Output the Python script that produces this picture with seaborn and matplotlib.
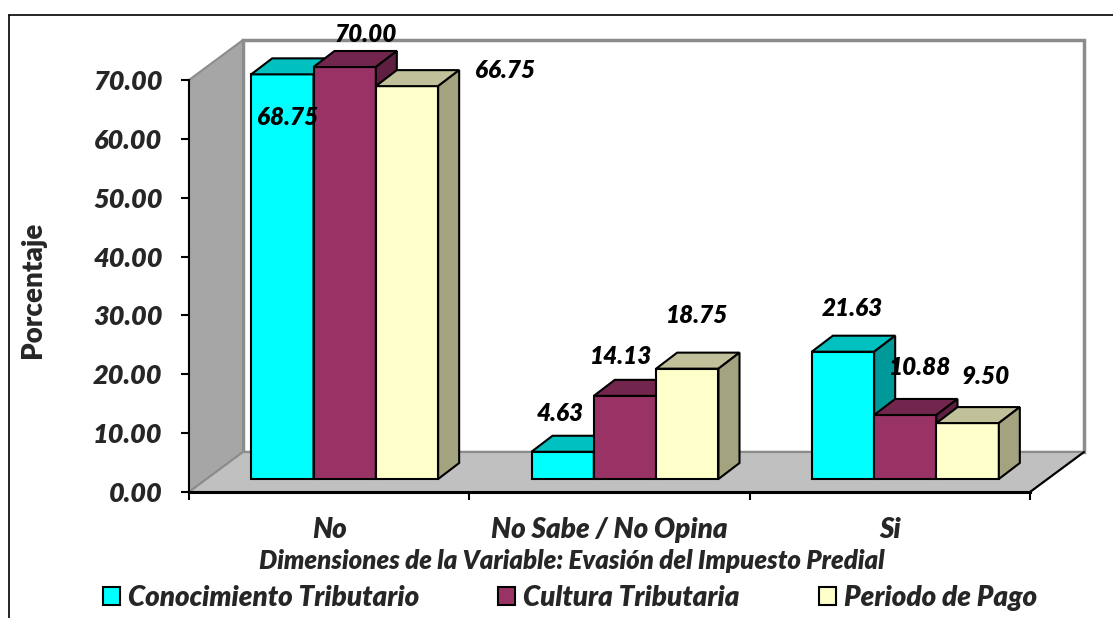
import seaborn as sns
import matplotlib.pyplot as plt
import pandas as pd
from matplotlib.patches import Polygon, Patch
from matplotlib.lines import Line2D

# datos
categorias = ['No', 'No Sabe / No Opina', 'Si']
series = ['Conocimiento Tributario', 'Cultura Tributaria', 'Periodo de Pago']
conocimiento = [68.75, 4.63, 21.63]
cultura = [70.00, 14.13, 10.88]
periodo = [66.75, 18.75, 9.50]

colores = ['#00FFFF', '#993366', '#FFFFCC']
colores_top = ['#00C0C0', '#73264D', '#C0C09A']
colores_lado = ['#009999', '#5E1F40', '#A3A380']

# posicion de las etiquetas (pixeles) respecto a la esquina superior de cada barra
offs_etiquetas = [
    [(5, -43), (-2, 38), (9, 43)],
    [(21, 32), (-4, 39), (15, 47)],
    [(98, 16), (10, 53), (18, 47)],
]

df = pd.DataFrame({
    'cat': categorias * 3,
    'serie': [series[0]] * 3 + [series[1]] * 3 + [series[2]] * 3,
    'valor': conocimiento + cultura + periodo,
})

sns.set_theme(style='white')
plt.rcParams['font.family'] = ['Lato', 'DejaVu Sans']
PESO = 'heavy'

W, H = 1113, 618
fig = plt.figure(figsize=(W / 100, H / 100), dpi=100)
ax = fig.add_axes([189 / W, 126 / H, 841 / W, 412 / H])

ax = sns.barplot(data=df, x='cat', y='valor', hue='serie', palette=colores,
                 width=0.667, edgecolor='black', linewidth=1.5, legend=False,
                 saturation=1, ax=ax)
ax.set_xlim(-0.5, 2.5)
ax.set_ylim(0, 70)

# profundidad de las paredes y de las barras (en unidades de datos)
pxx = 841 / 3.0
pxy = 412 / 70.0
dxw, dyw = 54 / pxx, 40 / pxy
dxb, dyb = 21 / pxx, 16 / pxy
sx, sy = 15.5 / pxx, 13 / pxy

# paredes
x0, x1 = -0.5, 2.5
lado = Polygon([(x0, 0), (x0, 70), (x0 + dxw, 70 + dyw), (x0 + dxw, dyw)],
               closed=True, facecolor='#A6A6A6', edgecolor='#8C8C8C', lw=1.5,
               clip_on=False, zorder=0.5)
piso = Polygon([(x0, 0), (x1, 0), (x1 + dxw, dyw), (x0 + dxw, dyw)],
               closed=True, facecolor='#C0C0C0', edgecolor='#8C8C8C', lw=1.5,
               clip_on=False, zorder=0.6)
fondo = Polygon([(x0 + dxw, dyw), (x1 + dxw, dyw), (x1 + dxw, 70 + dyw), (x0 + dxw, 70 + dyw)],
                closed=True, facecolor='white', edgecolor='#8C8C8C', lw=2.5,
                clip_on=False, zorder=0.4)
for p in (fondo, lado, piso):
    ax.add_patch(p)
ax.plot([x1, x1 + dxw], [0, dyw], color='black', lw=1.5, clip_on=False, zorder=0.7)

# barras 3D
barras = sorted(ax.patches[:9], key=lambda b: b.get_x())
serie_de = {}
for i, s in enumerate(series):
    for j in range(3):
        serie_de[j * 3 + i] = (i, j)

for k, b in enumerate(barras):
    i, j = serie_de[k]
    x, w, h = b.get_x() + sx, b.get_width(), b.get_height()
    z = 3 + k * 0.1
    b.set_x(x)
    b.set_y(sy)
    b.set_clip_on(False)
    b.set_zorder(z)
    top = Polygon([(x, sy + h), (x + w, sy + h), (x + w + dxb, sy + h + dyb), (x + dxb, sy + h + dyb)],
                  closed=True, facecolor=colores_top[i], edgecolor='black', lw=1.5,
                  clip_on=False, zorder=z)
    side = Polygon([(x + w, sy), (x + w + dxb, sy + dyb), (x + w + dxb, sy + h + dyb), (x + w, sy + h)],
                   closed=True, facecolor=colores_lado[i], edgecolor='black', lw=1.5,
                   clip_on=False, zorder=z)
    ax.add_patch(top)
    ax.add_patch(side)
    ox, oy = offs_etiquetas[i][j]
    ax.annotate(f'{h:.2f}', xy=(x + w / 2, sy + h), xytext=(ox, oy),
                textcoords='offset pixels', ha='center', va='center',
                fontsize=17.5, fontweight=PESO, fontstyle='italic',
                color='black', zorder=10, annotation_clip=False)

# ejes
ax.set_yticks(range(0, 80, 10))
ax.set_yticklabels([f'{v:.2f}' for v in range(0, 80, 10)])
ax.set_xticks([0, 1, 2])
ax.set_xticklabels(categorias)
ax.set_xticks([-0.5, 0.5, 1.5, 2.5], minor=True)
ax.tick_params(axis='y', left=True, length=6, width=1.5, pad=13, color='black',
               labelsize=19.5)
ax.tick_params(axis='x', which='major', bottom=True, length=0, pad=18, labelsize=20)
ax.tick_params(axis='x', which='minor', bottom=True, length=6, width=1.5, color='black')
for lab in ax.get_xticklabels() + ax.get_yticklabels():
    lab.set_fontweight(PESO)
    lab.set_fontstyle('italic')

for s in ['top', 'right']:
    ax.spines[s].set_visible(False)
ax.spines['left'].set_color('black')
ax.spines['left'].set_linewidth(1.5)
ax.spines['left'].set_zorder(2)
ax.spines['bottom'].set_color('black')
ax.spines['bottom'].set_linewidth(2.2)
ax.spines['bottom'].set_zorder(2)
ax.patch.set_visible(False)

ax.set_ylabel('Porcentaje', fontsize=20, fontweight=PESO)
ax.yaxis.set_label_coords(-0.17, 0.49)
ax.set_xlabel('Dimensiones de la Variable: Evasión del Impuesto Predial',
              fontsize=18.5, fontweight=PESO, fontstyle='italic', va='center')
ax.xaxis.set_label_coords(0.455, -0.167)

handles = [Patch(facecolor=c, edgecolor='black', lw=1.5) for c in colores]
fig.legend(handles, series, loc='center', bbox_to_anchor=(570 / W, 20 / H), ncol=3,
           frameon=False, handlelength=0.6, handleheight=0.6, handletextpad=0.3,
           columnspacing=2.85, prop={'size': 20, 'weight': PESO, 'style': 'italic'})

# marco del grafico
fig.add_artist(Line2D([9 / W, 9 / W], [0, 1 - 15 / H], color='black', lw=1.2))
fig.add_artist(Line2D([9 / W, 1], [1 - 15 / H, 1 - 15 / H], color='black', lw=1.2))

fig.savefig('out.png', dpi=100, facecolor='white')
